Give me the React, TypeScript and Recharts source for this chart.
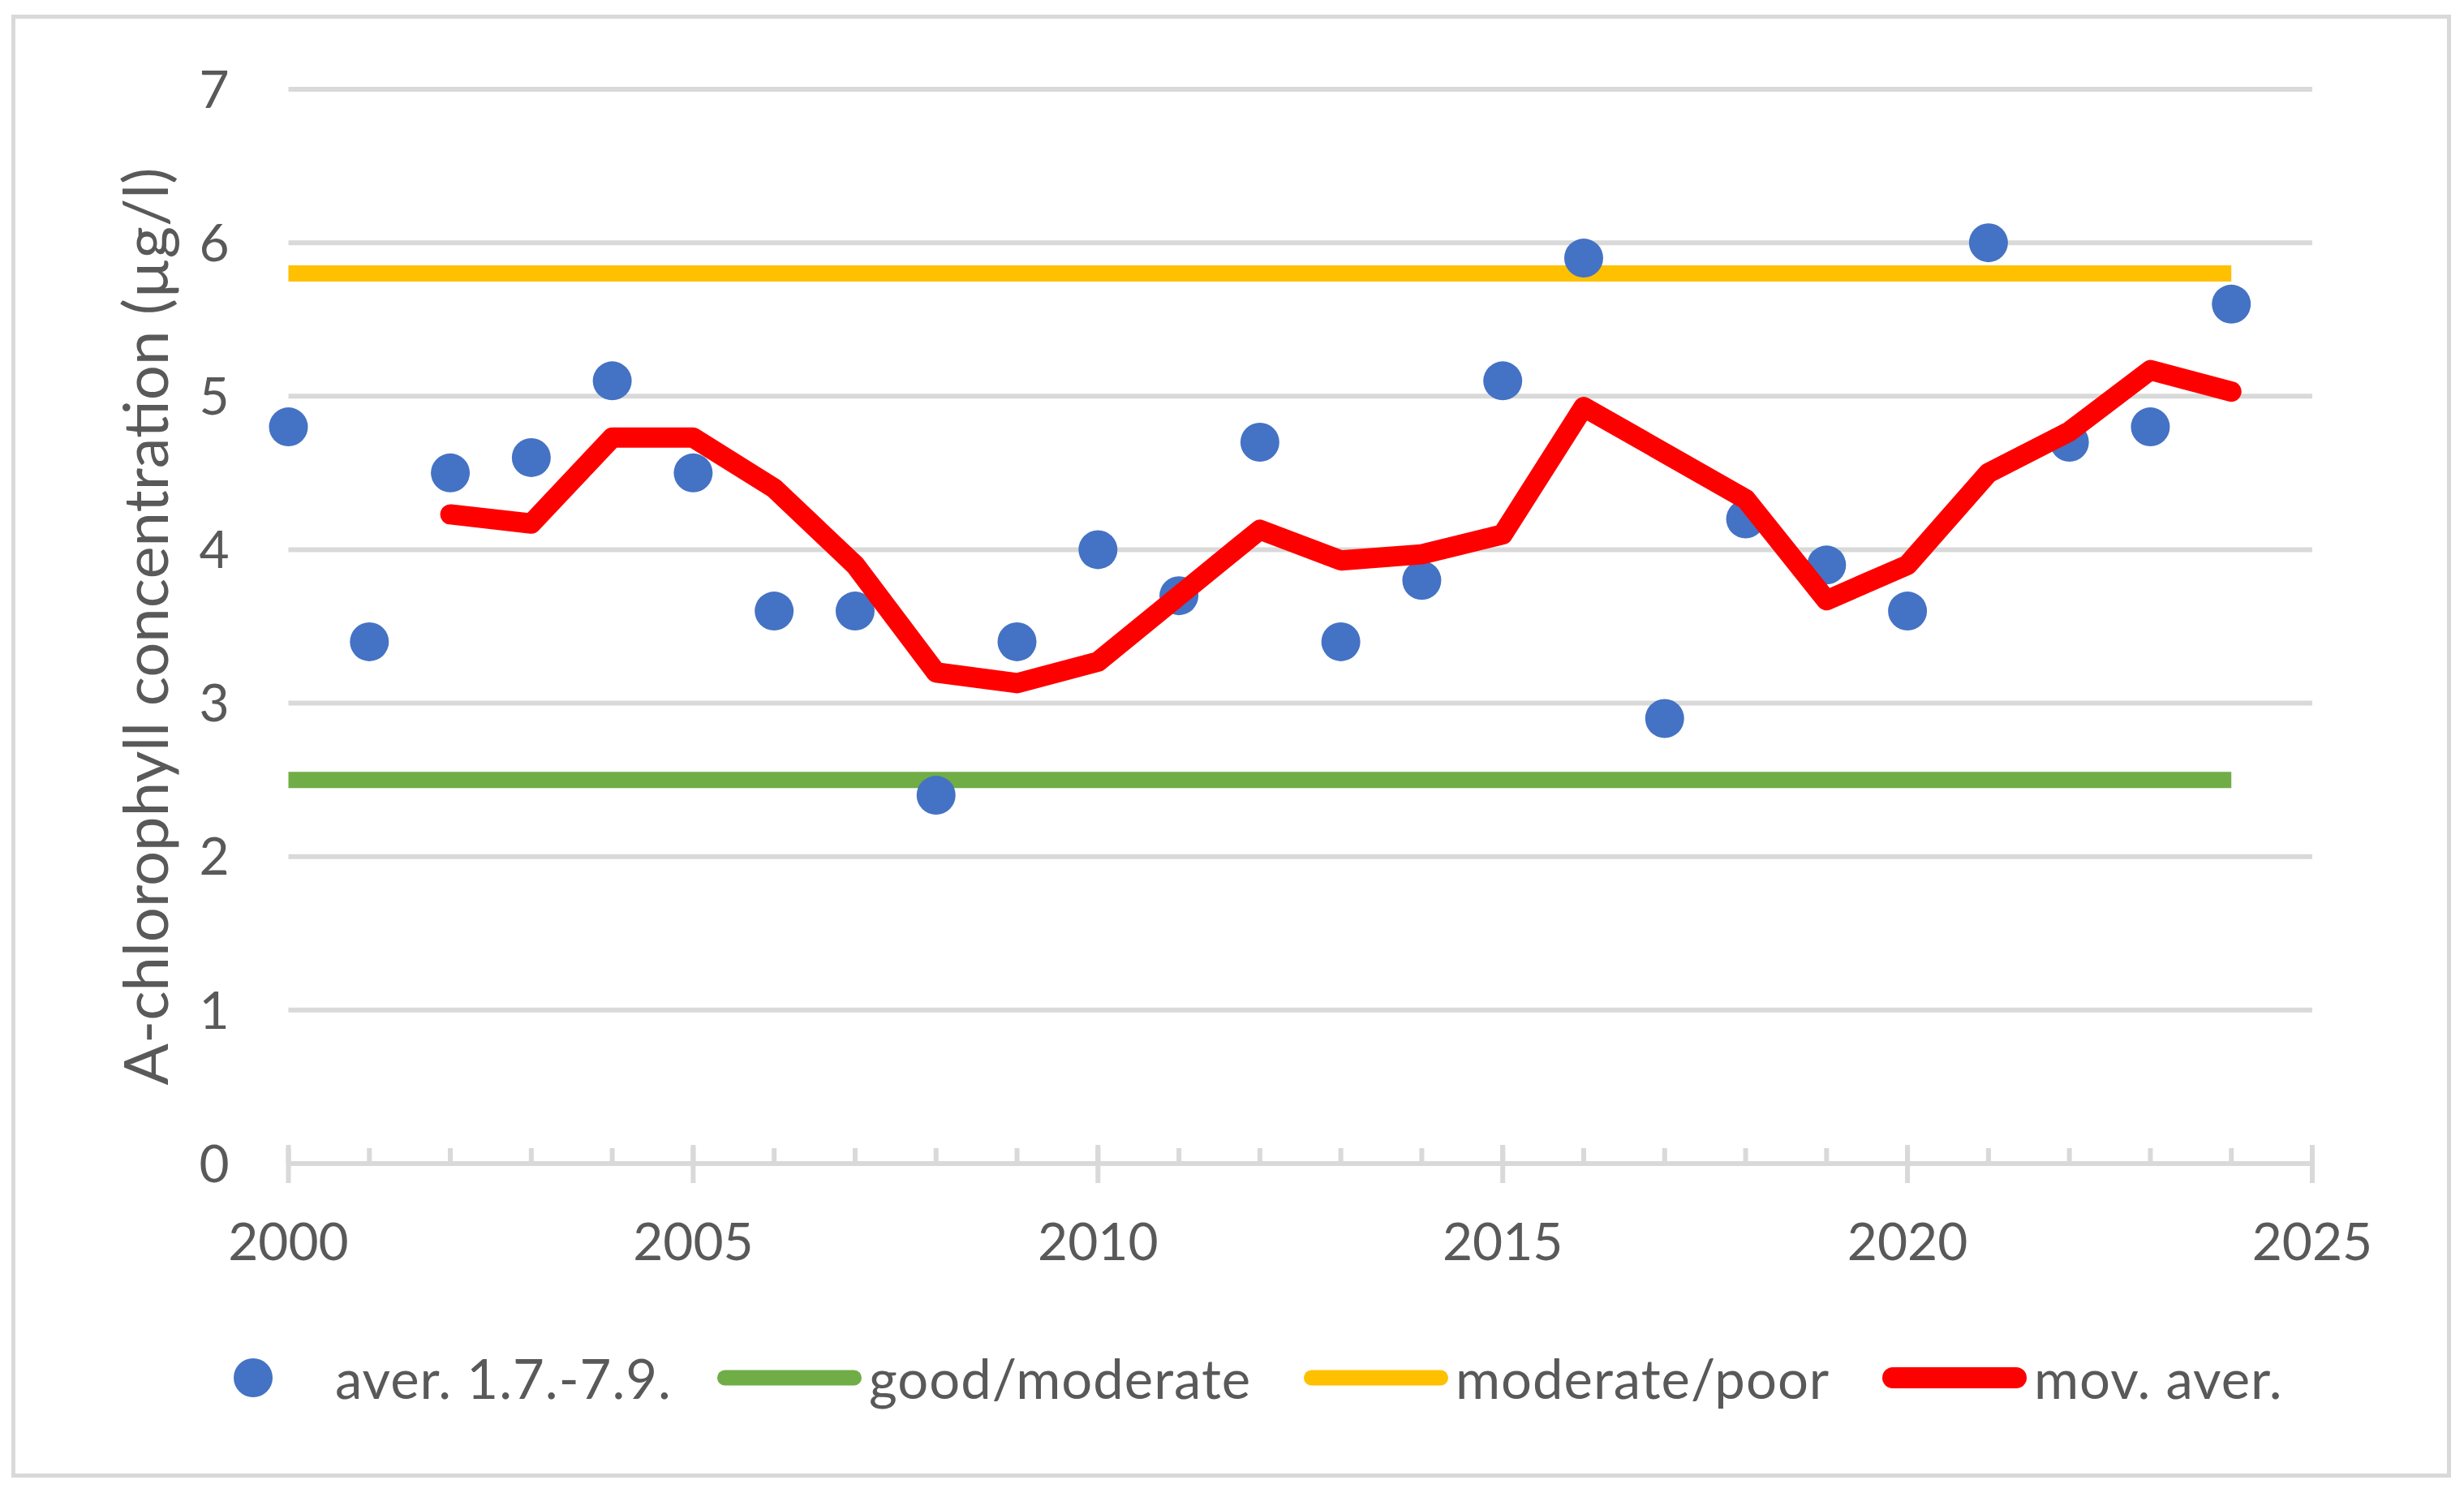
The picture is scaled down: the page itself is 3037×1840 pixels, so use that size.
import React from 'react';
import { ComposedChart, Line, Scatter, XAxis, YAxis, CartesianGrid, Legend, Label } from 'recharts';

const years = [2000, 2001, 2002, 2003, 2004, 2005, 2006, 2007, 2008, 2009, 2010, 2011, 2012, 2013, 2014, 2015, 2016, 2017, 2018, 2019, 2020, 2021, 2022, 2023, 2024];
const averValues = [4.8, 3.4, 4.5, 4.6, 5.1, 4.5, 3.6, 3.6, 2.4, 3.4, 4.0, 3.7, 4.7, 3.4, 3.8, 5.1, 5.9, 2.9, 4.2, 3.9, 3.6, 6.0, 4.7, 4.8, 5.6];
const goodModerateValues = [2.5, 2.5, 2.5, 2.5, 2.5, 2.5, 2.5, 2.5, 2.5, 2.5, 2.5, 2.5, 2.5, 2.5, 2.5, 2.5, 2.5, 2.5, 2.5, 2.5, 2.5, 2.5, 2.5, 2.5, 2.5];
const moderatePoorValues = [5.8, 5.8, 5.8, 5.8, 5.8, 5.8, 5.8, 5.8, 5.8, 5.8, 5.8, 5.8, 5.8, 5.8, 5.8, 5.8, 5.8, 5.8, 5.8, 5.8, 5.8, 5.8, 5.8, 5.8, 5.8];
const movAverValues = [null, null, 4.23, 4.17, 4.73, 4.73, 4.4, 3.9, 3.2, 3.13, 3.27, 3.7, 4.13, 3.93, 3.97, 4.1, 4.93, 4.63, 4.33, 3.67, 3.9, 4.5, 4.77, 5.17, 5.03];

const xMajorTicks = [2000, 2005, 2010, 2015, 2020, 2025];
const xMinorTicks = [2000, 2001, 2002, 2003, 2004, 2005, 2006, 2007, 2008, 2009, 2010, 2011, 2012, 2013, 2014, 2015, 2016, 2017, 2018, 2019, 2020, 2021, 2022, 2023, 2024, 2025];
const yTicks = [0, 1, 2, 3, 4, 5, 6, 7];

const seriesNames = ['aver. 1.7.-7.9.', 'good/moderate', 'moderate/poor', 'mov. aver.'];
const seriesColors = ['#4472c4', '#70ad47', '#ffc000', '#ff0000'];

const tableData = years.map((year, i) => ({
  year,
  aver: averValues[i],
  good: goodModerateValues[i],
  moderate: moderatePoorValues[i],
  mov: movAverValues[i],
}));

const FONT = 'Lato, "Open Sans", sans-serif';
const TEXT = '#595959';
const GRID = '#d9d9d9';

const legendWidths = [661, 723, 713, 560];
const legendStroke = [0, 19, 19, 26];

const LegendContent = () => (
  <div style={{ display: 'flex', alignItems: 'center', height: 100, marginLeft: 223, fontFamily: FONT, fontSize: 67, letterSpacing: 1, color: TEXT }}>
    {seriesNames.map((name, i) => (
      <div key={name} style={{ width: legendWidths[i], display: 'flex', alignItems: 'center', flex: 'none' }}>
        <svg width={178} height={60} style={{ flex: 'none' }}>
          {i === 0 ? (
            <circle cx={89} cy={30} r={24} fill={seriesColors[i]} />
          ) : (
            <line x1={legendStroke[i] / 2} x2={178 - legendStroke[i] / 2} y1={30} y2={30} stroke={seriesColors[i]} strokeWidth={legendStroke[i]} strokeLinecap="round" />
          )}
        </svg>
        <span style={{ marginLeft: i === 0 ? 12 : 9, whiteSpace: 'nowrap' }}>{name}</span>
      </div>
    ))}
  </div>
);

const Dot = (props: any) => <circle cx={props.cx} cy={props.cy} r={24} fill={seriesColors[0]} />;
const NoTick = () => <g />;

export default function App() {
  const redLineProps: any = { zIndex: 1500 };
  return (
    <div style={{ position: 'fixed', left: 0, top: 0, width: 3037, height: 1840, background: '#fff' }}>
      <div style={{ position: 'absolute', left: 14, top: 18, width: 3007, height: 1803, border: `5px solid ${GRID}`, boxSizing: 'border-box' }} />
      <div style={{ position: 'absolute', left: 0, top: 0 }}>
        <ComposedChart width={3037} height={1840} data={tableData} margin={{ top: 110, right: 187, bottom: 405, left: 4.5 }}>
          <CartesianGrid vertical={false} stroke={GRID} strokeWidth={6} />
          <XAxis
            xAxisId="main"
            dataKey="year"
            type="number"
            domain={[2000, 2025]}
            ticks={xMajorTicks}
            interval={0}
            height={1}
            axisLine={{ stroke: GRID, strokeWidth: 6 }}
            tickLine={{ stroke: GRID, strokeWidth: 6 }}
            tickSize={24}
            tickMargin={50}
            tick={{ fontFamily: FONT, fontSize: 64, fill: TEXT }}
          />
          <XAxis
            xAxisId="minor"
            dataKey="year"
            type="number"
            domain={[2000, 2025]}
            ticks={xMinorTicks}
            interval={0}
            height={1}
            mirror
            axisLine={false}
            tickLine={{ stroke: GRID, strokeWidth: 6 }}
            tickSize={18}
            tick={NoTick}
          />
          <XAxis
            xAxisId="majorUp"
            dataKey="year"
            type="number"
            domain={[2000, 2025]}
            ticks={xMajorTicks}
            interval={0}
            height={1}
            mirror
            axisLine={false}
            tickLine={{ stroke: GRID, strokeWidth: 6 }}
            tickSize={23}
            tick={NoTick}
          />
          <YAxis
            type="number"
            domain={[0, 7]}
            ticks={yTicks}
            interval={0}
            width={351}
            axisLine={false}
            tickLine={false}
            tickSize={0}
            tickMargin={73}
            tick={{ fontFamily: FONT, fontSize: 64, fill: TEXT }}
          >
            <Label
              value="A-chlorophyll concentration (µg/l)"
              angle={-90}
              position="center"
              style={{ fontFamily: FONT, fontSize: 76, fill: TEXT }}
            />
          </YAxis>
          <Line xAxisId="main" dataKey="good" name={seriesNames[1]} stroke={seriesColors[1]} strokeWidth={20} dot={false} activeDot={false} strokeLinecap="butt" isAnimationActive={false} />
          <Line xAxisId="main" dataKey="moderate" name={seriesNames[2]} stroke={seriesColors[2]} strokeWidth={20} dot={false} activeDot={false} strokeLinecap="butt" isAnimationActive={false} />
          <Scatter xAxisId="main" dataKey="aver" name={seriesNames[0]} fill={seriesColors[0]} shape={Dot} isAnimationActive={false} />
          <Line xAxisId="main" dataKey="mov" name={seriesNames[3]} stroke={seriesColors[3]} strokeWidth={25} dot={false} activeDot={false} strokeLinecap="round" strokeLinejoin="round" isAnimationActive={false} {...redLineProps} />
          <Legend layout="horizontal" verticalAlign="middle" content={LegendContent} wrapperStyle={{ left: 0, top: 1648, width: 3037, height: 100 }} />
        </ComposedChart>
      </div>
    </div>
  );
}
